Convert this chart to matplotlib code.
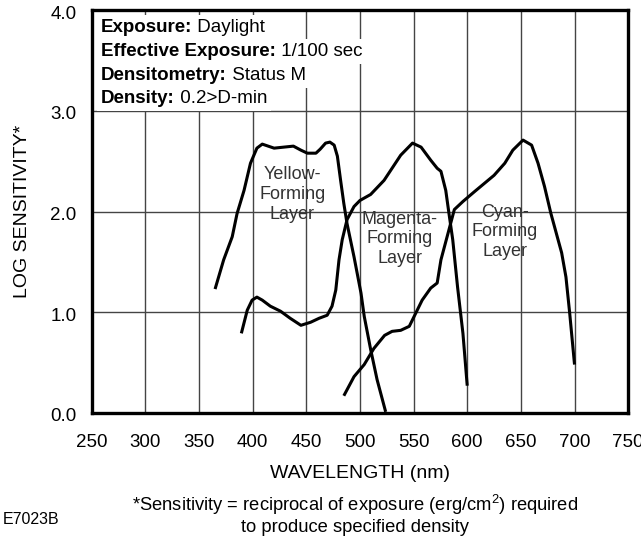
import numpy as np
import matplotlib
matplotlib.use('Agg')
import matplotlib.pyplot as plt
import matplotlib.transforms as mtransforms

plt.rcParams['font.family'] = ['Liberation Sans', 'DejaVu Sans']
plt.rcParams['mathtext.fontset'] = 'custom'
plt.rcParams['mathtext.rm'] = 'Liberation Sans'
plt.rcParams['mathtext.it'] = 'Liberation Sans:italic'

# spectral sensitivity curves
yellow_wl = [365, 373, 381, 385.5, 392, 398, 404, 409, 420, 438, 445, 451, 459, 463,
             468, 472, 476, 479, 482, 485, 488, 494.5, 501, 504, 510, 516, 524]
yellow_val = [1.23, 1.52, 1.75, 1.98, 2.21, 2.48, 2.63, 2.67, 2.63, 2.65, 2.61, 2.58, 2.58, 2.62,
              2.68, 2.69, 2.66, 2.55, 2.31, 2.08, 1.88, 1.55, 1.19, 0.96, 0.63, 0.33, 0.01]

magenta_wl = [389.5, 395, 399.5, 404, 409, 416.5, 426, 435, 445, 454, 462, 469.5, 474, 477.5,
              480.5, 483.5, 488, 494.5, 500, 510, 522.5, 538, 549, 557, 566, 572, 575.5, 580,
              583, 586.5, 591, 596, 600]
magenta_val = [0.79, 1.02, 1.12, 1.15, 1.12, 1.06, 1.01, 0.94, 0.87, 0.90, 0.94, 0.97, 1.06, 1.22,
               1.52, 1.72, 1.92, 2.05, 2.11, 2.17, 2.31, 2.56, 2.68, 2.64, 2.51, 2.43, 2.40, 2.21,
               1.98, 1.72, 1.25, 0.79, 0.27]

cyan_wl = [485, 494.5, 504, 513, 523, 530, 538, 546, 552, 558, 566, 572, 575.5, 582, 588, 596,
           607, 616, 625, 635, 642.5, 652, 660, 666, 672, 678, 688, 692, 695.5, 700]
cyan_val = [0.17, 0.36, 0.48, 0.64, 0.77, 0.81, 0.82, 0.86, 0.99, 1.12, 1.24, 1.29, 1.52, 1.78,
            2.02, 2.10, 2.20, 2.28, 2.36, 2.48, 2.61, 2.71, 2.66, 2.48, 2.25, 1.98, 1.59, 1.35,
            0.99, 0.48]

x_ticks = [250, 300, 350, 400, 450, 500, 550, 600, 650, 700, 750]
y_ticks = [0.0, 1.0, 2.0, 3.0, 4.0]

layer_labels = ['Yellow-\nForming\nLayer', 'Magenta-\nForming\nLayer', 'Cyan-\nForming\nLayer']
layer_pos = [(437, 2.17), (537, 1.73), (635, 1.80)]

info_bold = ['Exposure:', 'Effective Exposure:', 'Densitometry:', 'Density:']
info_text = ['Daylight', '1/100 sec', 'Status M', '0.2>D-min']

fig = plt.figure(figsize=(6.41, 5.39), dpi=100)
ax = fig.add_axes([0.143, 0.234, 0.837, 0.747])

for wl, val in [(yellow_wl, yellow_val), (magenta_wl, magenta_val), (cyan_wl, cyan_val)]:
    ax.plot(wl, val, color='black', lw=2.2, solid_joinstyle='round', solid_capstyle='butt', zorder=3)

ax.set_xlim(250, 750)
ax.set_ylim(0, 4)
ax.set_xticks(x_ticks)
ax.set_yticks(y_ticks)
ax.set_yticklabels([f'{v:.1f}' for v in y_ticks])
ax.grid(True, color='#444444', lw=1.0)
ax.set_axisbelow(True)
ax.tick_params(length=0, labelsize=13.5)
ax.tick_params(axis='x', pad=15)
ax.tick_params(axis='y', pad=11)
for lab in ax.get_yticklabels():
    lab.set_transform(lab.get_transform() + mtransforms.ScaledTranslation(0, -2 / 100, fig.dpi_scale_trans))
for sp in ax.spines.values():
    sp.set_linewidth(2.4)

ax.set_xlabel('WAVELENGTH (nm)', fontsize=14, labelpad=10)
ax.set_ylabel('LOG SENSITIVITY*', fontsize=14, labelpad=14)

for txt, (x, y) in zip(layer_labels, layer_pos):
    ax.text(x, y, txt, ha='center', va='center', fontsize=13, color='#333333', zorder=4)

base_y = [0.946, 0.886, 0.826, 0.769]
for b, n, y in zip(info_bold, info_text, base_y):
    t = ax.text(0.017, y, b, transform=ax.transAxes, fontsize=13.5, fontweight='bold',
                va='baseline', ha='left', zorder=6,
                bbox=dict(boxstyle='square,pad=0.2', fc='white', ec='none'))
    ax.annotate(' ' + n, xy=(1, 0), xycoords=t, va='bottom', ha='left', fontsize=13.5, zorder=5,
                bbox=dict(boxstyle='square,pad=0.2', fc='white', ec='none'))

fig.text(0.554, 1 - 505 / 539, '*Sensitivity = reciprocal of exposure (erg/cm$^2$) required',
         ha='center', va='center', fontsize=13.2)
fig.text(0.554, 1 - 528 / 539, 'to produce specified density', ha='center', va='center', fontsize=13.2)
fig.text(0.004, 1 - 519 / 539, 'E7023B', ha='left', va='center', fontsize=11.5)

fig.savefig('out.png', dpi=100)
